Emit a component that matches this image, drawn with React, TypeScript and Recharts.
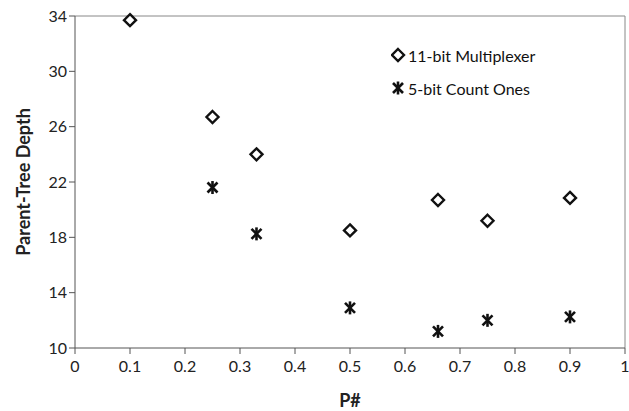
import React from 'react';
import { ScatterChart, Scatter, XAxis, YAxis, ReferenceLine } from 'recharts';

const muxP = [0.1, 0.25, 0.33, 0.5, 0.66, 0.75, 0.9];
const muxDepth = [33.7, 26.7, 24.0, 18.5, 20.7, 19.2, 20.85];
const onesP = [0.25, 0.33, 0.5, 0.66, 0.75, 0.9];
const onesDepth = [21.6, 18.25, 12.9, 11.2, 12.0, 12.25];
const xTicks = [0, 0.1, 0.2, 0.3, 0.4, 0.5, 0.6, 0.7, 0.8, 0.9, 1];
const yTicks = [10, 14, 18, 22, 26, 30, 34];
const seriesNames = ['11-bit Multiplexer', '5-bit Count Ones'];

const muxData = muxP.map((p, i) => ({ p, depth: muxDepth[i] }));
const onesData = onesP.map((p, i) => ({ p, depth: onesDepth[i] }));

const FONT = 'Lato, "Open Sans", sans-serif';

const Diamond = (props: any) => {
  const { cx, cy } = props;
  const r = 6;
  return (
    <path
      d={`M${cx},${cy - r} L${cx + r},${cy} L${cx},${cy + r} L${cx - r},${cy} Z`}
      fill="#fff"
      stroke="#111"
      strokeWidth={2.4}
    />
  );
};

const Asterisk = (props: any) => {
  const { cx, cy } = props;
  const r = 6.5;
  const d = 5;
  return (
    <g stroke="#111" strokeWidth={2.6}>
      <line x1={cx} y1={cy - r} x2={cx} y2={cy + r} />
      <line x1={cx - d} y1={cy - d} x2={cx + d} y2={cy + d} />
      <line x1={cx - d} y1={cy + d} x2={cx + d} y2={cy - d} />
    </g>
  );
};

const LegendBox = () => (
  <div style={{ position: 'absolute', left: 391, top: 44, fontFamily: FONT, fontSize: 16, color: '#111' }}>
    <div style={{ display: 'flex', alignItems: 'center', height: 22 }}>
      <svg width={16} height={16}>
        <Diamond cx={7} cy={8} />
      </svg>
      <span style={{ marginLeft: 1 }}>{seriesNames[0]}</span>
    </div>
    <div style={{ display: 'flex', alignItems: 'center', height: 22, marginTop: 11 }}>
      <svg width={16} height={16}>
        <Asterisk cx={7} cy={8} />
      </svg>
      <span style={{ marginLeft: 1 }}>{seriesNames[1]}</span>
    </div>
  </div>
);

export default function App() {
  return (
    <div style={{ position: 'absolute', left: 0, top: 0, width: 629, height: 411, background: '#fff' }}>
      <ScatterChart width={629} height={411} margin={{ top: 16, right: 4, bottom: 0, left: 0 }}>
        <XAxis
          type="number"
          dataKey="p"
          domain={[0, 1]}
          ticks={xTicks}
          interval={0}
          stroke="#555"
          tickSize={6}
          tick={{ fill: '#222', fontSize: 16, fontFamily: FONT, dy: 5 }}
          tickFormatter={(v: number) => String(v)}
          height={63}
          label={{ value: 'P#', position: 'insideBottom', offset: 4, fill: '#222', fontSize: 18, fontWeight: 700, fontFamily: FONT }}
        />
        <YAxis
          type="number"
          dataKey="depth"
          domain={[10, 34]}
          ticks={yTicks}
          interval={0}
          stroke="#555"
          tickSize={6}
          width={75}
          tick={{ fill: '#222', fontSize: 16, fontFamily: FONT }}
          label={{ value: 'Parent-Tree Depth', angle: -90, position: 'insideLeft', offset: 24, fill: '#222', fontSize: 18, fontWeight: 700, fontFamily: FONT, textAnchor: 'middle' }}
        />
        <ReferenceLine y={34} stroke="#888" strokeWidth={1} />
        <ReferenceLine x={1} stroke="#888" strokeWidth={1} />
        <Scatter name={seriesNames[0]} data={muxData} shape={<Diamond />} isAnimationActive={false} />
        <Scatter name={seriesNames[1]} data={onesData} shape={<Asterisk />} isAnimationActive={false} />
      </ScatterChart>
      <LegendBox />
    </div>
  );
}
